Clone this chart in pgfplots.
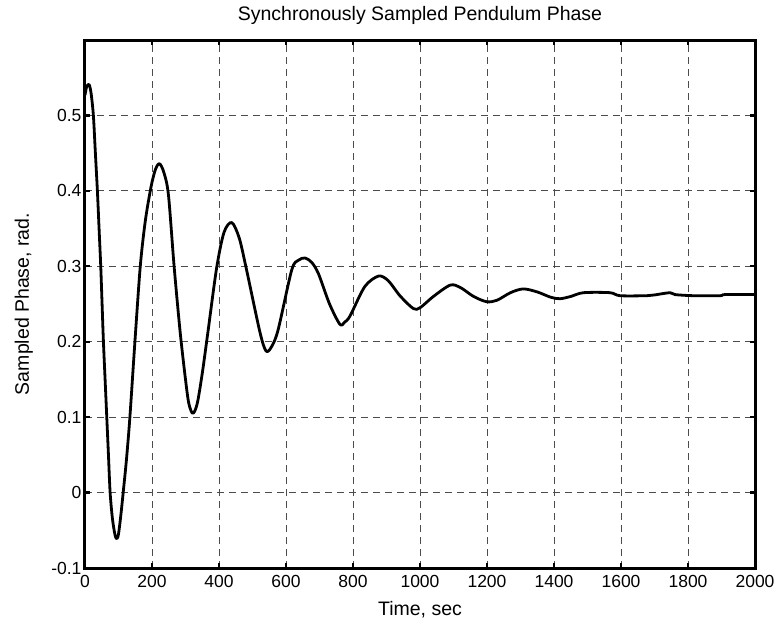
\documentclass[border=0pt]{standalone}
\usepackage{fontspec}
\setmainfont{Liberation Sans}
\usepackage{pgfplots}
\pgfplotsset{compat=1.18}
\begin{document}
\begin{tikzpicture}
\path[use as bounding box] (-85pt,-53pt) rectangle (693pt,568pt);
\begin{axis}[
  at={(0pt,0pt)}, anchor=south west,
  scale only axis, width=670pt, height=528pt,
  xmin=0, xmax=2000, ymin=-0.1, ymax=0.6,
  xtick={0,200,...,2000},
  ytick={-0.1,0,0.1,0.2,0.3,0.4,0.5},
  yticklabels={-0.1,0,0.1,0.2,0.3,0.4,0.5},
  scaled ticks=false,
  /pgf/number format/assume math mode=true,
  /pgf/number format/1000 sep={},
  tick label style={font=\fontsize{17.5}{20}\selectfont},
  xticklabel style={yshift=-4pt},
  label style={font=\fontsize{19.5}{22}\selectfont},
  every axis title shift=0pt,
  title style={font=\fontsize{19.5}{22}\selectfont, at={(axis description cs:0.5,1.036)}, anchor=base},
  title={Synchronously Sampled Pendulum Phase},
  xlabel={Time, sec},
  xlabel style={at={(axis description cs:0.5,-0.0909)}, anchor=base},
  ylabel={Sampled Phase, rad.},
  ylabel style={at={(axis description cs:-0.0836,0.5)}, anchor=base},
  axis line style={line width=3pt},
  every tick/.style={black, line width=2.2pt},
  major tick length=5pt,
  tick pos=both,
  grid=major,
  major grid style={dash pattern=on 7pt off 5pt, line width=1pt, black!70},
]
\addplot[black, line width=2.8pt, line join=round, smooth, tension=0.5] coordinates {
(0,0.527) (5,0.538) (12,0.541) (18,0.530) (25,0.500) (31,0.450) (37,0.400)
(42,0.350) (47,0.300) (51,0.250) (55,0.200) (60,0.150) (65,0.100) (70,0.050)
(75,0.000) (82,-0.035) (90,-0.057) (95,-0.061) (100,-0.055) (107,-0.030)
(114,0.000) (124,0.045) (134,0.100) (149,0.200) (165,0.300)
(180,0.360) (197,0.405) (210,0.428) (222,0.436) (235,0.425) (249,0.395)
(266,0.300) (284,0.213) (300,0.150) (310,0.118) (322,0.105) (335,0.118)
(350,0.158) (367,0.213) (393,0.298) (415,0.345) (438,0.358) (460,0.338)
(480,0.300) (522,0.213) (540,0.188) (555,0.192) (576,0.215) (617,0.295)
(637,0.308) (657,0.311) (677,0.305) (697,0.290) (730,0.250) (761,0.223)
(775,0.226) (791,0.234) (835,0.273) (876,0.287) (905,0.281) (940,0.261)
(980,0.244) (1000,0.245) (1040,0.260) (1090,0.275) (1120,0.272) (1160,0.260)
(1199,0.253) (1230,0.255) (1270,0.265) (1308,0.270) (1350,0.266) (1390,0.259)
(1418,0.257) (1450,0.260) (1488,0.265) (1567,0.265) (1597,0.261) (1677,0.261)
(1700,0.262) (1746,0.265) (1761,0.2625) (1816,0.261) (1896,0.261) (1910,0.2625)
(2000,0.2625)
};
\end{axis}
\end{tikzpicture}
\end{document}
